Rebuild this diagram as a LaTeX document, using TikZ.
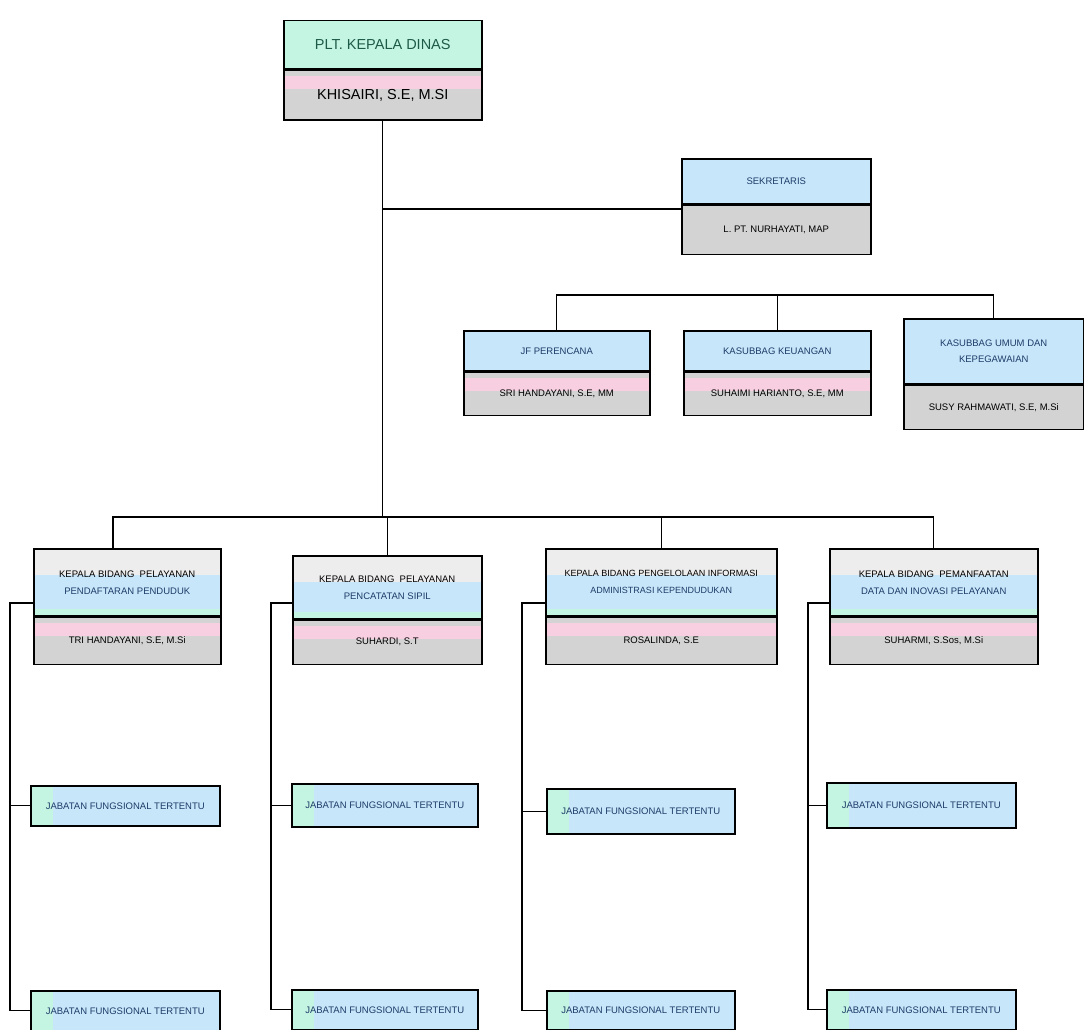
\documentclass[tikz,border=0pt]{standalone}
\usepackage{fontspec}
\setsansfont{Liberation Sans}
\definecolor{lmint}{HTML}{C4F4E2}
\definecolor{lblue}{HTML}{C8E6FA}
\definecolor{lgray}{HTML}{D3D3D3}
\definecolor{lpink}{HTML}{F7CFE0}
\definecolor{lwhite}{HTML}{EDEDED}
\definecolor{tgreen}{HTML}{1E5A48}
\definecolor{tblue}{HTML}{1D3C68}
\begin{document}
\begin{tikzpicture}[x=1pt,y=-1pt,
  box/.style={draw=black, line width=1.5pt, anchor=north west, inner sep=1pt, align=center,
    font=\sffamily\fontsize{9.5}{12}\selectfont},
  headband/.style={box, fill=lblue, text=tblue},
  mintband/.style={box, fill=lmint, text=tgreen},
  bidband/.style={box, fill=lblue, text=tblue,
    path picture={\fill[lwhite] (path picture bounding box.north west) rectangle ([yshift=-26pt]path picture bounding box.north east);
                  \fill[lmint] ([yshift=7pt]path picture bounding box.south west) rectangle (path picture bounding box.south east);}},
  nameband/.style={box, fill=lgray, text=black,
    path picture={\fill[lpink] ([yshift=-6pt]path picture bounding box.north west) rectangle ([yshift=-19pt]path picture bounding box.north east);}},
  jfband/.style={box, fill=lblue, text=tblue,
    path picture={\fill[lmint] (path picture bounding box.north west) rectangle ([xshift=22pt]path picture bounding box.south west);}},
  conn/.style={draw=black, line width=1.2pt}
]
\useasboundingbox[fill=white] (0,0) rectangle (1084,1030);

% Kepala Dinas
\node[mintband, minimum width=198pt, minimum height=48pt, font=\sffamily\fontsize{14.5}{17}\selectfont] (kdt) at (283,20) {PLT. KEPALA DINAS};
\node[nameband, minimum width=198pt, minimum height=50pt, font=\sffamily\fontsize{14.5}{17}\selectfont] (kdb) at (kdt.south west) {KHISAIRI, S.E, M.SI};

% Sekretaris
\node[headband, minimum width=189pt, minimum height=45pt] (skt) at (681,158) {SEKRETARIS};
\node[box, fill=lgray, minimum width=189pt, minimum height=49pt] (skb) at (skt.south west) {L. PT. NURHAYATI, MAP};

% Sub bagian
\node[headband, minimum width=186pt, minimum height=40pt] (jft) at (463,330) {JF PERENCANA};
\node[nameband, minimum width=186pt, minimum height=43pt] (jfb) at (jft.south west) {SRI HANDAYANI, S.E, MM};
\node[headband, minimum width=187pt, minimum height=40pt] (kut) at (683,330) {KASUBBAG KEUANGAN};
\node[nameband, minimum width=187pt, minimum height=43pt] (kub) at (kut.south west) {SUHAIMI HARIANTO, S.E, MM};
\node[headband, minimum width=180pt, minimum height=65pt] (umt) at (903,318) {KASUBBAG UMUM DAN\\[4pt]KEPEGAWAIAN};
\node[box, fill=lgray, minimum width=180pt, minimum height=44pt] (umb) at (umt.south west) {SUSY RAHMAWATI, S.E, M.Si};

% Bidang
\node[bidband, minimum width=187pt, minimum height=67pt] (b1t) at (33,548) {\textcolor{black}{KEPALA BIDANG\ \ PELAYANAN}\\[5pt]PENDAFTARAN PENDUDUK};
\node[nameband, minimum width=187pt, minimum height=47pt] (b1b) at (b1t.south west) {TRI HANDAYANI, S.E, M.Si};
\node[bidband, minimum width=189pt, minimum height=63pt] (b2t) at (292,555) {\textcolor{black}{KEPALA BIDANG\ \ PELAYANAN}\\[5pt]PENCATATAN SIPIL};
\node[nameband, minimum width=189pt, minimum height=44pt] (b2b) at (b2t.south west) {SUHARDI, S.T};
\node[bidband, minimum width=231pt, minimum height=67pt, font=\sffamily\fontsize{9}{12}\selectfont] (b3t) at (545,548) {\textcolor{black}{KEPALA BIDANG PENGELOLAAN INFORMASI}\\[5pt]ADMINISTRASI KEPENDUDUKAN};
\node[nameband, minimum width=231pt, minimum height=47pt] (b3b) at (b3t.south west) {ROSALINDA, S.E};
\node[bidband, minimum width=208pt, minimum height=67pt] (b4t) at (829,548) {\textcolor{black}{KEPALA BIDANG\ \ PEMANFAATAN}\\[5pt]DATA DAN INOVASI PELAYANAN};
\node[nameband, minimum width=208pt, minimum height=47pt] (b4b) at (b4t.south west) {SUHARMI, S.Sos, M.Si};

% Jabatan fungsional
\node[jfband, minimum width=189pt, minimum height=40pt] (f1a) at (30,785) {JABATAN FUNGSIONAL TERTENTU};
\node[jfband, minimum width=189pt, minimum height=40pt] (f1b) at (30,990) {JABATAN FUNGSIONAL TERTENTU};
\node[jfband, minimum width=186pt, minimum height=43pt] (f2a) at (291,783) {JABATAN FUNGSIONAL TERTENTU};
\node[jfband, minimum width=186pt, minimum height=40pt] (f2b) at (291,989) {JABATAN FUNGSIONAL TERTENTU};
\node[jfband, minimum width=188pt, minimum height=45pt] (f3a) at (546,788) {JABATAN FUNGSIONAL TERTENTU};
\node[jfband, minimum width=188pt, minimum height=39pt] (f3b) at (546,990) {JABATAN FUNGSIONAL TERTENTU};
\node[jfband, minimum width=189pt, minimum height=45pt] (f4a) at (826,782) {JABATAN FUNGSIONAL TERTENTU};
\node[jfband, minimum width=189pt, minimum height=40pt] (f4b) at (826,989) {JABATAN FUNGSIONAL TERTENTU};

% connectors
\coordinate (jmain) at (kdb.south |- 0,517);
\coordinate (jsek) at (kdb.south |- 0,209);
\coordinate (jsub) at (765,295);
\draw[conn] (kdb.south) -- (jmain);
\draw[conn] (jsek) -- (jsek -| skb.west);
% sub bus
\draw[conn] (jft.north) -- (jft.north |- jsub) -- (umt.north |- jsub) -- (umt.north);
\draw[conn] (kut.north) -- (kut.north |- jsub);
% main bus
\coordinate (b1top) at (113,548);
\draw[conn] (b1top) -- (b1top |- jmain) -- (b4t.north |- jmain) -- (b4t.north);
\draw[conn] (b2t.north) -- (b2t.north |- jmain);
\draw[conn] (b3t.north) -- (b3t.north |- jmain);
% brackets
\coordinate (c1) at (10,603);
\coordinate (c2) at (271,603);
\coordinate (c3) at (522,603);
\coordinate (c4) at (808,603);
\draw[conn] (c1 -| b1t.west) -- (c1) |- (f1b.west);
\draw[conn] (c1 |- f1a.west) -- (f1a.west);
\draw[conn] (c2 -| b2t.west) -- (c2) |- (f2b.west);
\draw[conn] (c2 |- f2a.west) -- (f2a.west);
\draw[conn] (c3 -| b3t.west) -- (c3) |- (f3b.west);
\draw[conn] (c3 |- f3a.west) -- (f3a.west);
\draw[conn] (c4 -| b4t.west) -- (c4) |- (f4b.west);
\draw[conn] (c4 |- f4a.west) -- (f4a.west);
\end{tikzpicture}
\end{document}
